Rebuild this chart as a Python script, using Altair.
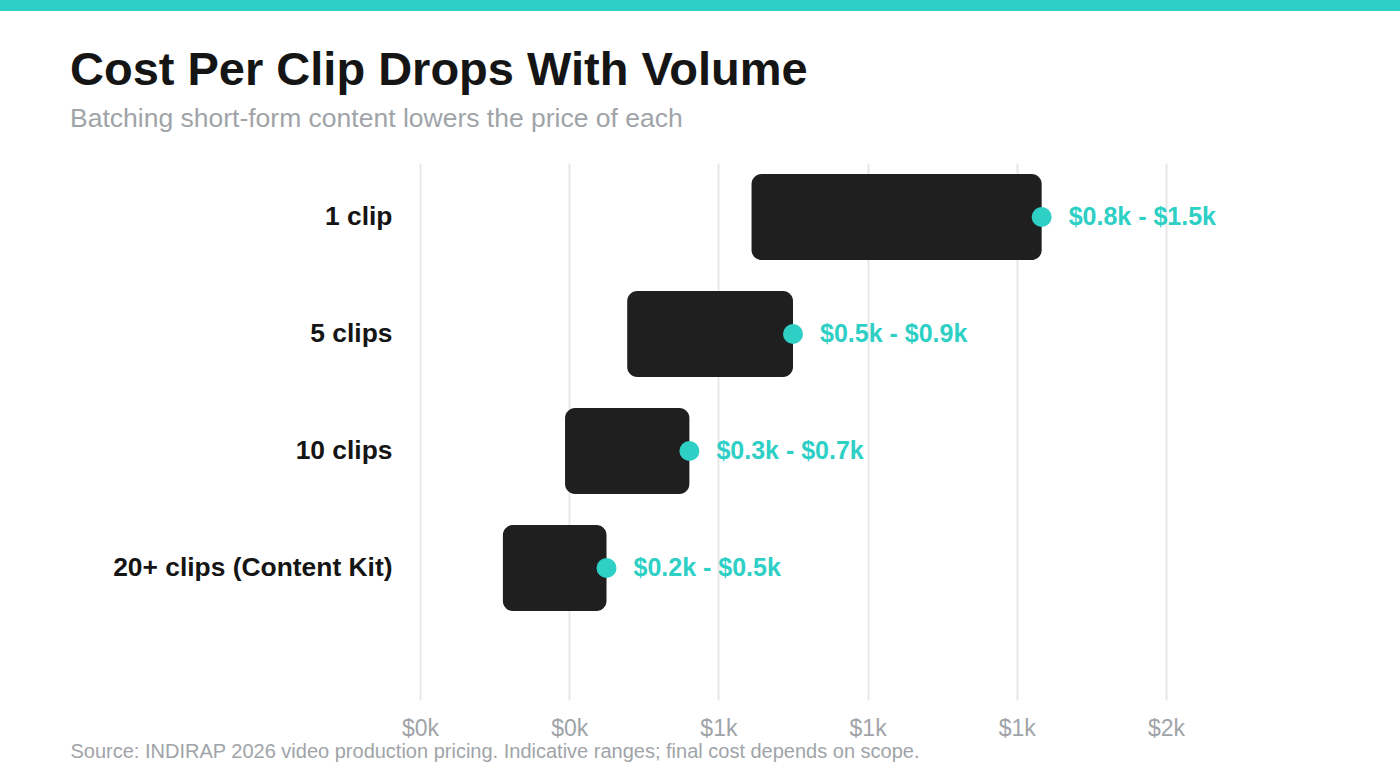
import altair as alt
import pandas as pd

categories = ["1 clip", "5 clips", "10 clips", "20+ clips (Content Kit)"]
low_cost = [800, 500, 350, 200]
high_cost = [1500, 900, 650, 450]
range_labels = ["$0.8k - $1.5k", "$0.5k - $0.9k", "$0.3k - $0.7k", "$0.2k - $0.5k"]
tick_values = [0, 360, 720, 1080, 1440, 1800]

TEAL = "#2ecfc5"
DARK = "#1f1f1f"
GREY = "#a0a4a8"
FONT = "Liberation Sans"

df = pd.DataFrame({"cat": categories, "low": low_cost, "high": high_cost, "label": range_labels})

y_enc = alt.Y(
    "cat:N",
    sort=categories,
    scale=alt.Scale(domain=categories, paddingInner=0.265, paddingOuter=0.4274, align=0.11),
    axis=alt.Axis(
        title=None, domain=False, ticks=False, grid=False,
        labelFont=FONT, labelFontSize=26.4, labelFontWeight="bold", labelColor="#151515",
        labelPadding=28, labelLimit=400,
    ),
)

x_scale = alt.Scale(domain=[0, 1800], nice=False, zero=True)

base = alt.Chart(df)

bars = base.mark_bar(color=DARK, cornerRadius=10).encode(
    x=alt.X(
        "low:Q",
        scale=x_scale,
        axis=alt.Axis(
            values=tick_values,
            labelExpr="'$' + format(datum.value / 1000, '.0f') + 'k'",
            domain=False, ticks=False, grid=True, gridColor="#e8e8e8", gridWidth=2,
            labelFont=FONT, labelFontSize=23, labelColor=GREY, labelPadding=17, labelFlush=False,
            title="Source: INDIRAP 2026 video production pricing. Indicative ranges; final cost depends on scope.",
            titleFont=FONT, titleFontSize=20, titleFontWeight="normal", titleColor=GREY,
            titleX=-350, titleY=57, titleAlign="left", titleBaseline="alphabetic", titleAnchor="start",
        ),
    ),
    x2="high:Q",
    y=y_enc,
)

dots = base.mark_circle(color=TEAL, size=400, opacity=1).encode(
    x=alt.X("high:Q", scale=x_scale),
    y=alt.Y("cat:N", sort=categories),
)

texts = base.mark_text(
    align="left", baseline="middle", dx=27, fontSize=25, fontWeight="bold", font=FONT, color=TEAL
).encode(
    x=alt.X("high:Q", scale=x_scale),
    y=alt.Y("cat:N", sort=categories),
    text="label:N",
)

band = alt.Chart(alt.Data(values=[{"k": 1}])).mark_rect(color=TEAL, clip=False).encode(
    x=alt.value(-420), x2=alt.value(980), y=alt.value(-163), y2=alt.value(-152)
)

chart = alt.layer(bars, dots, texts, band).properties(
    width=746,
    height=537,
    background="white",
    padding={"left": 420, "top": 163, "right": 234, "bottom": 82},
    autosize=alt.AutoSizeParams(type="none"),
    title=alt.TitleParams(
        text="Cost Per Clip Drops With Volume",
        subtitle="Batching short-form content lowers the price of each",
        anchor="start", frame="group", dx=-350, dy=163, offset=30,
        font=FONT, fontSize=47, fontWeight="bold", color="#151515",
        subtitleFont=FONT, subtitleFontSize=26.5, subtitleColor=GREY, subtitlePadding=11,
    ),
).configure_view(stroke="transparent", strokeWidth=0)

chart.save("out.html", embed_options={"renderer": "svg", "actions": False})
